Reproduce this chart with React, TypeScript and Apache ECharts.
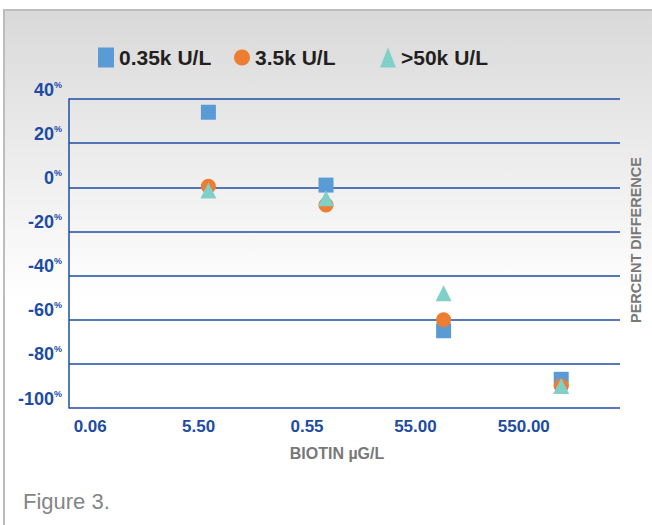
import React, { useEffect, useRef } from "react";
import * as echarts from "echarts";

const categories = ["0.06", "5.50", "0.55", "55.00", "550.00"];
const seriesNames = ["0.35k U/L", "3.5k U/L", ">50k U/L"];
const lowValues: (number | string)[] = ["-", 34, 1, -65, -87];
const midValues: (number | string)[] = ["-", 0.5, -8, -60, -90];
const highValues: (number | string)[] = ["-", -1.5, -5, -48, -90];
const yMin = -100;
const yMax = 40;
const yStep = 20;

const BLUE = "#1e4ca3";
const FONT = "'Liberation Sans', Arial, sans-serif";

export default function App() {
  const ref = useRef<HTMLDivElement>(null);
  useEffect(() => {
    document.body.style.margin = "0";
    const chart = echarts.init(ref.current!, null, { renderer: "svg" });
    const legendBase = {
      top: 47,
      padding: 0,
      itemWidth: 16,
      itemHeight: 20,
      itemGap: 5,
      textStyle: { fontFamily: FONT, fontSize: 21, fontWeight: "bold", color: "#231f20" },
      selectedMode: false,
    };
    const gridTop = 99;
    const gridBottom = 117;
    chart.setOption({
      animation: false,
      backgroundColor: "#ffffff",
      graphic: [
        {
          type: "rect",
          silent: true,
          z: -10,
          shape: { x: 4, y: 10, width: 660, height: 530 },
          style: {
            fill: new echarts.graphic.LinearGradient(0, 0, 0, 1, [
              { offset: 0, color: "#d9d9d9" },
              { offset: 0.55, color: "#ffffff" },
              { offset: 1, color: "#ffffff" },
            ]),
            stroke: "#bdbdbd",
            lineWidth: 2,
          },
        },
        {
          type: "text",
          x: 337,
          y: 453,
          style: {
            text: "BIOTIN µG/L",
            fontFamily: FONT,
            fontSize: 16,
            fontWeight: "bold",
            fill: "#787878",
            align: "center",
            verticalAlign: "middle",
          },
        },
        {
          type: "text",
          x: 636,
          y: 240,
          rotation: Math.PI / 2,
          style: {
            text: "PERCENT DIFFERENCE",
            fontFamily: FONT,
            fontSize: 14.5,
            fontWeight: "bold",
            fill: "#787878",
            align: "center",
            verticalAlign: "middle",
          },
        },
        {
          type: "text",
          x: 23,
          y: 501,
          style: {
            text: "Figure 3.",
            fontFamily: FONT,
            fontSize: 22,
            fill: "#858585",
            align: "left",
            verticalAlign: "middle",
          },
        },
      ],
      legend: [
        { ...legendBase, left: 98, data: [{ name: seriesNames[0], icon: "rect" }] },
        { ...legendBase, left: 234, data: [{ name: seriesNames[1], icon: "circle" }] },
        { ...legendBase, left: 380, data: [{ name: seriesNames[2], icon: "triangle" }] },
      ],
      grid: [
        { left: 69, right: 32, top: gridTop, bottom: gridBottom },
        { left: 32, right: 32, top: gridTop, bottom: gridBottom },
        { left: 36, right: 74, top: gridTop, bottom: gridBottom },
      ],
      xAxis: [
        { gridIndex: 0, type: "category", data: categories, show: false },
        { gridIndex: 1, type: "category", data: categories, show: false, boundaryGap: true },
        {
          gridIndex: 2,
          type: "category",
          data: categories,
          boundaryGap: true,
          axisLine: { show: false },
          axisTick: { show: false },
          splitLine: { show: false },
          axisLabel: {
            margin: 10,
            fontFamily: FONT,
            fontSize: 17,
            fontWeight: "bold",
            color: BLUE,
          },
        },
      ],
      yAxis: [
        {
          gridIndex: 0,
          type: "value",
          min: yMin,
          max: yMax,
          interval: yStep,
          axisLine: { show: true, lineStyle: { color: BLUE, width: 1.5 } },
          axisTick: { show: false },
          splitLine: { show: true, lineStyle: { color: BLUE, width: 1.5 } },
          axisLabel: {
            margin: 7,
            verticalAlign: "bottom",
            formatter: (v: number) => `{n|${v}}{p|%}`,
            rich: {
              n: { fontFamily: FONT, fontSize: 18, fontWeight: "bold", color: BLUE, lineHeight: 19 },
              p: { fontFamily: FONT, fontSize: 9, fontWeight: "bold", color: BLUE, lineHeight: 11, verticalAlign: "top" },
            },
          },
        },
        { gridIndex: 1, type: "value", min: yMin, max: yMax, show: false },
        { gridIndex: 2, type: "value", min: yMin, max: yMax, show: false },
      ],
      series: [
        {
          name: seriesNames[0],
          type: "scatter",
          xAxisIndex: 1,
          yAxisIndex: 1,
          symbol: "rect",
          symbolSize: 15,
          itemStyle: { color: "#5b9bd5", opacity: 1 },
          data: lowValues,
        },
        {
          name: seriesNames[1],
          type: "scatter",
          xAxisIndex: 1,
          yAxisIndex: 1,
          symbol: "circle",
          symbolSize: 15,
          itemStyle: { color: "#ed7d31", opacity: 1 },
          data: midValues,
        },
        {
          name: seriesNames[2],
          type: "scatter",
          xAxisIndex: 1,
          yAxisIndex: 1,
          symbol: "triangle",
          symbolSize: 16,
          itemStyle: { color: "#80d0c8", opacity: 1 },
          data: highValues,
        },
      ],
    });
    return () => chart.dispose();
  }, []);
  return <div ref={ref} style={{ width: 652, height: 525 }} />;
}
